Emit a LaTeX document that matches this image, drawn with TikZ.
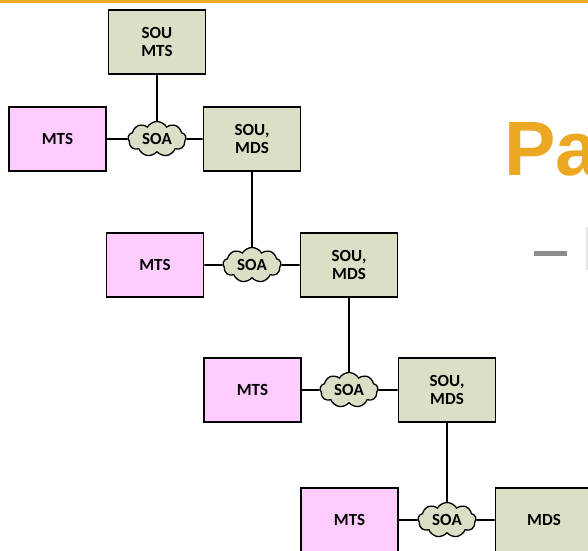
\documentclass[tikz,border=0pt]{standalone}
\usepackage{fontspec}
\setmainfont{Carlito}
\newfontfamily\titlefont{Liberation Sans}
\usetikzlibrary{shapes.symbols}
\definecolor{accent}{HTML}{ECA823}
\definecolor{soufill}{HTML}{DCDEC6}
\definecolor{mtsfill}{HTML}{FFCCFF}
\definecolor{dashgray}{HTML}{8C8C8C}
\tikzset{
  x=1pt, y=-1pt,
  unit/.style={draw=black, line width=1.8pt, minimum width=97pt, minimum height=64pt,
    inner sep=0pt, align=center, font=\bfseries\fontsize{17}{17.5}\selectfont},
  soubox/.style={unit, fill=soufill},
  mtsbox/.style={unit, fill=mtsfill},
  soacloud/.style={cloud, cloud puffs=9, cloud puff arc=120, aspect=1.55,
    draw=black, line width=1.3pt, fill=soufill, minimum width=58pt, minimum height=35pt,
    inner sep=0pt, font=\bfseries\fontsize{17}{17.5}\selectfont},
  link/.style={draw=black, line width=1.8pt}
}
\begin{document}
\begin{tikzpicture}
\useasboundingbox (0,0) rectangle (588,550);
\clip (0,0) rectangle (588,550);
\fill[white] (0,0) rectangle (588,550);
% title bar rule
\fill[accent] (0,0) rectangle (588,2.5);

% heading fragment
\node[anchor=base west, inner sep=0pt, text=accent, font=\titlefont\bfseries\fontsize{77}{80}\selectfont] (title) at (504,175) {Pa};
\fill[dashgray] (534,251) rectangle (567,256);
\draw[line width=1.2pt, draw=black!10] (587,227) -- (587,270);

% row 1
\node[soubox] (top) at (157,42) {SOU\\MTS};
\node[mtsbox] (m1) at (57.5,139) {MTS};
\node[soacloud] (c1) at (157,139) {SOA};
\node[soubox] (s1) at (252,139) {SOU,\\MDS};
% row 2
\node[mtsbox] (m2) at (155,265) {MTS};
\node[soacloud] (c2) at (252,265) {SOA};
\node[soubox] (s2) at (349,265) {SOU,\\MDS};
% row 3
\node[mtsbox] (m3) at (252.5,390) {MTS};
\node[soacloud] (c3) at (349,390) {SOA};
\node[soubox] (s3) at (447,390) {SOU,\\MDS};
% row 4
\node[mtsbox] (m4) at (349.5,520) {MTS};
\node[soacloud] (c4) at (447,520) {SOA};
\node[soubox] (d4) at (544,520) {MDS};

% connectors
\path[link] (top.south) -- (c1.north);
\path[link] (m1.east) -- (c1.west);
\path[link] (c1.east) -- (s1.west);
\path[link] (s1.south) -- (c2.north);
\path[link] (m2.east) -- (c2.west);
\path[link] (c2.east) -- (s2.west);
\path[link] (s2.south) -- (c3.north);
\path[link] (m3.east) -- (c3.west);
\path[link] (c3.east) -- (s3.west);
\path[link] (s3.south) -- (c4.north);
\path[link] (m4.east) -- (c4.west);
\path[link] (c4.east) -- (d4.west);
\end{tikzpicture}
\end{document}
